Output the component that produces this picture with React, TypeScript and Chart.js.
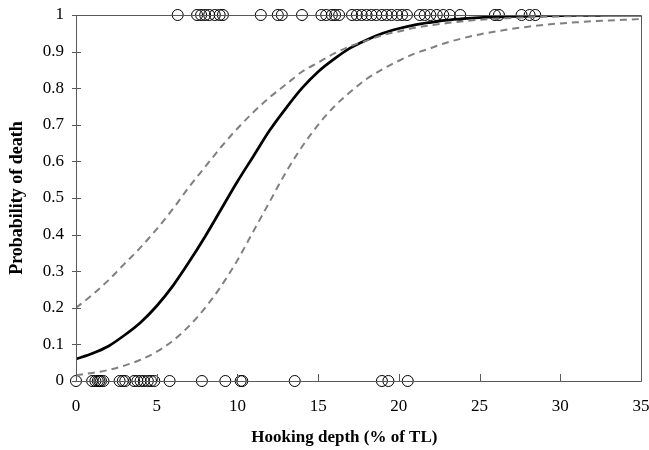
import React, { useEffect, useRef } from "react";
import { Chart, registerables } from "chart.js";

Chart.register(...registerables);

// Observed fish: hooking depth (% of TL) for dead (y=1) and surviving (y=0) fish
const deadDepths = [
  6.3, 7.5, 7.75, 8.0, 8.25, 8.6, 8.9, 9.1, 11.45, 12.5, 12.75, 14.0, 15.2, 15.5,
  15.85, 16.05, 16.3, 17.1, 17.4, 17.7, 18.0, 18.3, 18.6, 18.95, 19.25, 19.55,
  19.9, 20.2, 20.5, 21.3, 21.6, 21.95, 22.35, 22.75, 23.15, 23.8, 25.95, 26.2,
  27.6, 28.1, 28.45,
];
const aliveDepths = [
  0, 1.0, 1.2, 1.35, 1.45, 1.55, 1.7, 2.7, 2.9, 3.05, 3.6, 3.8, 4.0, 4.2, 4.45,
  4.65, 4.85, 5.8, 7.8, 9.25, 10.2, 10.3, 13.55, 18.95, 19.35, 20.55,
];

// Fitted curve and confidence band, read at each whole % of TL
const curveX = [
  0, 1, 2, 3, 4, 5, 6, 7, 8, 9, 10, 11, 12, 13, 14, 15, 16, 17, 18, 19, 20, 21,
  22, 23, 24, 25, 26, 27, 28, 29, 30, 31, 32, 33, 34, 35,
];
const fitted = [
  0.06, 0.075, 0.095, 0.125, 0.16, 0.205, 0.26, 0.325, 0.395, 0.47, 0.545, 0.615,
  0.685, 0.745, 0.8, 0.845, 0.88, 0.91, 0.932, 0.95, 0.963, 0.973, 0.98, 0.986,
  0.99, 0.993, 0.995, 0.996, 0.997, 0.998, 0.9985, 0.999, 0.999, 0.9995, 0.9995,
  0.9995,
];
const upperCI = [
  0.2, 0.235, 0.275, 0.32, 0.365, 0.415, 0.47, 0.53, 0.585, 0.64, 0.69, 0.735,
  0.775, 0.81, 0.845, 0.87, 0.895, 0.915, 0.93, 0.945, 0.955, 0.965, 0.972, 0.978,
  0.983, 0.987, 0.99, 0.992, 0.994, 0.995, 0.996, 0.997, 0.998, 0.998, 0.999,
  0.999,
];
const lowerCI = [
  0.016, 0.022, 0.03, 0.042, 0.058, 0.08, 0.11, 0.15, 0.2, 0.26, 0.33, 0.41, 0.49,
  0.57, 0.64, 0.7, 0.75, 0.79, 0.825, 0.852, 0.875, 0.895, 0.91, 0.925, 0.937,
  0.947, 0.955, 0.962, 0.968, 0.973, 0.977, 0.98, 0.983, 0.985, 0.987, 0.989,
];

const xTicks = [0, 5, 10, 15, 20, 25, 30, 35];
const yTicks = [0, 0.1, 0.2, 0.3, 0.4, 0.5, 0.6, 0.7, 0.8, 0.9, 1];
const xTitle = "Hooking depth (% of TL)";
const yTitle = "Probability of death";

const FONT = "'Liberation Serif', 'Times New Roman', serif";
const AXIS_COLOR = "#595959";

const frame = {
  id: "frame",
  afterDatasetsDraw(chart: any) {
    const { ctx, chartArea, scales } = chart;
    const { left, right, top, bottom } = chartArea;
    ctx.save();
    ctx.strokeStyle = AXIS_COLOR;
    ctx.lineWidth = 1;
    ctx.beginPath();
    ctx.rect(Math.round(left) + 0.5, Math.round(top) + 0.5, Math.round(right - left), Math.round(bottom - top));
    ctx.stroke();
    ctx.beginPath();
    for (const v of yTicks) {
      const y = Math.round(scales.y.getPixelForValue(v)) + 0.5;
      ctx.moveTo(left - 4, y);
      ctx.lineTo(left + 5, y);
    }
    for (const v of xTicks) {
      const x = Math.round(scales.x.getPixelForValue(v)) + 0.5;
      ctx.moveTo(x, bottom + 0.5);
      ctx.lineTo(x, bottom - 7);
    }
    ctx.stroke();
    // x-axis title, placed slightly left of the plot centre as in the source figure
    ctx.fillStyle = "#000";
    ctx.font = `bold 17px ${FONT}`;
    ctx.textAlign = "center";
    ctx.textBaseline = "middle";
    ctx.fillText(xTitle, left + (right - left) * 0.475, chart.height - 12);
    ctx.restore();
  },
};

export default function App() {
  const ref = useRef<HTMLCanvasElement | null>(null);

  useEffect(() => {
    document.body.style.margin = "0";
    const pts = (xs: number[], ys: number[]) => xs.map((x, i) => ({ x, y: ys[i] }));
    const circles = {
      pointRadius: 5.5,
      pointBorderColor: "#000000",
      pointBackgroundColor: "rgba(0,0,0,0)",
      pointBorderWidth: 1,
      clip: false,
    };
    const chart = new Chart(ref.current as HTMLCanvasElement, {
      type: "scatter",
      data: {
        datasets: [
          {
            label: "Upper 95% CI",
            data: pts(curveX, upperCI),
            showLine: true,
            borderColor: "#808080",
            borderWidth: 2,
            borderDash: [7, 5],
            pointRadius: 0,
            cubicInterpolationMode: "monotone",
          },
          {
            label: "Lower 95% CI",
            data: pts(curveX, lowerCI),
            showLine: true,
            borderColor: "#808080",
            borderWidth: 2,
            borderDash: [7, 5],
            pointRadius: 0,
            cubicInterpolationMode: "monotone",
          },
          {
            label: "Fitted",
            data: pts(curveX, fitted),
            showLine: true,
            borderColor: "#000000",
            borderWidth: 2.75,
            pointRadius: 0,
            cubicInterpolationMode: "monotone",
          },
          { label: "Dead", data: deadDepths.map((x) => ({ x, y: 1 })), ...circles },
          { label: "Alive", data: aliveDepths.map((x) => ({ x, y: 0 })), ...circles },
        ],
      },
      options: {
        animation: false,
        responsive: false,
        maintainAspectRatio: false,
        layout: { padding: { top: 15, right: 8, left: 0, bottom: 0 } },
        plugins: { legend: { display: false }, tooltip: { enabled: false } },
        scales: {
          x: {
            type: "linear",
            min: 0,
            max: 35,
            grid: { display: false, drawTicks: false },
            border: { display: false },
            afterBuildTicks: (s: any) => {
              s.ticks = xTicks.map((value) => ({ value }));
            },
            afterFit: (s: any) => {
              s.height = 69;
              s.paddingLeft = 0;
              s.paddingRight = 0;
            },
            ticks: {
              color: "#000",
              padding: 15,
              maxRotation: 0,
              font: { family: FONT, size: 17 },
              callback: (v: any) => String(v),
            },
            title: { display: false },
          },
          y: {
            type: "linear",
            min: 0,
            max: 1,
            grid: { display: false, drawTicks: false },
            border: { display: false },
            afterBuildTicks: (s: any) => {
              s.ticks = yTicks.map((value) => ({ value }));
            },
            afterFit: (s: any) => {
              s.width = 76;
              s.paddingTop = 0;
              s.paddingBottom = 0;
            },
            ticks: {
              color: "#000",
              padding: 12,
              font: { family: FONT, size: 17 },
              callback: (v: any) => String(Math.round(v * 10) / 10),
            },
            title: {
              display: true,
              text: yTitle,
              color: "#000",
              font: { family: FONT, size: 18, weight: "bold" },
              padding: { top: 7, bottom: 4 },
            },
          },
        },
      },
      plugins: [frame],
    } as any);
    return () => chart.destroy();
  }, []);

  return (
    <div style={{ width: 649, height: 450 }}>
      <canvas ref={ref} width={649} height={450} style={{ width: 649, height: 450, display: "block" }} />
    </div>
  );
}
